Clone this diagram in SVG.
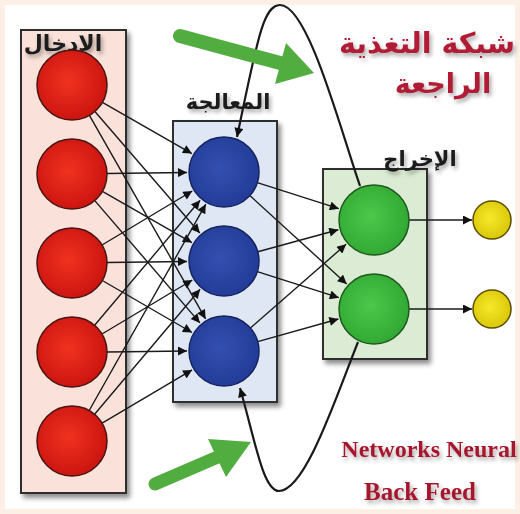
<svg xmlns="http://www.w3.org/2000/svg" width="520" height="514" viewBox="0 0 520 514">
<defs>
<style>
.box{stroke:#2e2e2e;stroke-width:2}
.conn line,.conn path{stroke:#1a1a1a;stroke-width:1.4;fill:none}
.ar{font-family:"DejaVu Sans",sans-serif;font-weight:bold;text-anchor:middle}
.en{font-family:"Liberation Serif",serif;font-weight:bold;fill:#a5182e;text-anchor:middle}
</style>
<marker id="ah" viewBox="0 0 10 10" refX="10" refY="5" markerWidth="10" markerHeight="9" markerUnits="userSpaceOnUse" orient="auto">
<path d="M0,0 L10,5 L0,10 z" fill="#111"/>
</marker>
<filter id="sh" x="-20%" y="-20%" width="140%" height="140%">
<feDropShadow dx="3" dy="4" stdDeviation="2.5" flood-color="#000" flood-opacity="0.45"/>
</filter>
<filter id="tsh" x="-20%" y="-30%" width="140%" height="160%">
<feDropShadow dx="2" dy="3" stdDeviation="2" flood-color="#000" flood-opacity="0.35"/>
</filter>
<radialGradient id="gr" cx="45%" cy="45%" r="60%"><stop offset="0" stop-color="#f0321f"/><stop offset="1" stop-color="#c9120f"/></radialGradient>
<radialGradient id="gb" cx="45%" cy="45%" r="60%"><stop offset="0" stop-color="#3450b0"/><stop offset="1" stop-color="#213a96"/></radialGradient>
<radialGradient id="gg" cx="45%" cy="45%" r="60%"><stop offset="0" stop-color="#4cc84a"/><stop offset="1" stop-color="#2fa632"/></radialGradient>
<radialGradient id="gy" cx="45%" cy="45%" r="60%"><stop offset="0" stop-color="#f5ea28"/><stop offset="1" stop-color="#d8c408"/></radialGradient>
</defs>
<rect width="520" height="514" fill="#fcefe5"/>
<rect x="5" y="5" width="510" height="504" fill="#ffffff"/>

<g id="input-layer">
<rect class="box" x="21" y="30" width="105" height="463" fill="#fae1da" filter="url(#sh)"/>
<text class="ar" x="63" y="51" font-size="22" fill="#1a1a1a" filter="url(#tsh)">الادخال</text>
</g>
<g id="hidden-layer">
<rect class="box" x="173" y="121" width="104" height="281" fill="#dfe7f4" filter="url(#sh)"/>
<text class="ar" x="228" y="109" font-size="21" fill="#1a1a1a" filter="url(#tsh)">المعالجة</text>
</g>
<g id="output-layer">
<rect class="box" x="323" y="169" width="104" height="190" fill="#dcecd4" filter="url(#sh)"/>
<text class="ar" x="420" y="166" font-size="21" fill="#1a1a1a" filter="url(#tsh)">الإخراج</text>
</g>

<g id="connectors" class="conn">
<line x1="102.4" y1="102.4" x2="191.9" y2="153.6" marker-end="url(#ah)"/>
<line x1="94.9" y1="111.5" x2="199.8" y2="233.0" marker-end="url(#ah)"/>
<line x1="89.4" y1="115.4" x2="205.6" y2="318.9" marker-end="url(#ah)"/>
<line x1="107" y1="173.5" x2="187" y2="172.5" marker-end="url(#ah)"/>
<line x1="102.4" y1="191.4" x2="191.9" y2="242.6" marker-end="url(#ah)"/>
<line x1="94.8" y1="200.6" x2="199.9" y2="322.9" marker-end="url(#ah)"/>
<line x1="102.0" y1="245.0" x2="192.3" y2="191.0" marker-end="url(#ah)"/>
<line x1="107" y1="262.5" x2="187" y2="261.5" marker-end="url(#ah)"/>
<line x1="102.3" y1="280.5" x2="192.0" y2="332.5" marker-end="url(#ah)"/>
<line x1="94.6" y1="325.3" x2="200.1" y2="200.3" marker-end="url(#ah)"/>
<line x1="102.0" y1="334.0" x2="192.3" y2="280.0" marker-end="url(#ah)"/>
<line x1="107" y1="352" x2="187" y2="351" marker-end="url(#ah)"/>
<line x1="89.2" y1="410.5" x2="205.8" y2="204.2" marker-end="url(#ah)"/>
<line x1="94.6" y1="414.3" x2="200.1" y2="289.3" marker-end="url(#ah)"/>
<line x1="102.1" y1="423.2" x2="192.1" y2="369.9" marker-end="url(#ah)"/>
<line x1="257.3" y1="182.7" x2="338.8" y2="208.7" marker-end="url(#ah)"/>
<line x1="249.9" y1="195.6" x2="346.7" y2="284.0" marker-end="url(#ah)"/>
<line x1="257.8" y1="251.8" x2="338.3" y2="229.8" marker-end="url(#ah)"/>
<line x1="257.3" y1="271.7" x2="338.8" y2="297.7" marker-end="url(#ah)"/>
<line x1="250.4" y1="328.0" x2="346.1" y2="244.3" marker-end="url(#ah)"/>
<line x1="257.7" y1="341.6" x2="338.4" y2="319.0" marker-end="url(#ah)"/>
<line x1="409" y1="220" x2="472" y2="220" marker-end="url(#ah)"/>
<line x1="409" y1="309" x2="472" y2="309" marker-end="url(#ah)"/>
<path d="M360,186 C340,128 308,5 280,5 C263,5 257,42 237,137" style="stroke-width:2.2" marker-end="url(#ah)"/>
<path d="M358,342 C335,400 305,491 279,491 C263,491 255,440 240,388" style="stroke-width:2.2" marker-end="url(#ah)"/>
</g>

<g id="in1"><circle cx="72" cy="85" r="35" fill="url(#gr)" stroke="#4a1410" stroke-width="1.5"/></g>
<g id="in2"><circle cx="72" cy="174" r="35" fill="url(#gr)" stroke="#4a1410" stroke-width="1.5"/></g>
<g id="in3"><circle cx="72" cy="263" r="35" fill="url(#gr)" stroke="#4a1410" stroke-width="1.5"/></g>
<g id="in4"><circle cx="72" cy="352" r="35" fill="url(#gr)" stroke="#4a1410" stroke-width="1.5"/></g>
<g id="in5"><circle cx="72" cy="441" r="35" fill="url(#gr)" stroke="#4a1410" stroke-width="1.5"/></g>
<g id="h1"><circle cx="224" cy="172" r="35" fill="url(#gb)" stroke="#17245e" stroke-width="1.5"/></g>
<g id="h2"><circle cx="224" cy="261" r="35" fill="url(#gb)" stroke="#17245e" stroke-width="1.5"/></g>
<g id="h3"><circle cx="224" cy="351" r="35" fill="url(#gb)" stroke="#17245e" stroke-width="1.5"/></g>
<g id="o1"><circle cx="374" cy="220" r="35" fill="url(#gg)" stroke="#1e5a1e" stroke-width="1.5"/></g>
<g id="o2"><circle cx="374" cy="309" r="35" fill="url(#gg)" stroke="#1e5a1e" stroke-width="1.5"/></g>
<g id="y1"><circle cx="492" cy="220" r="19" fill="url(#gy)" stroke="#5e4e00" stroke-width="1.5"/></g>
<g id="y2"><circle cx="492" cy="309" r="19" fill="url(#gy)" stroke="#5e4e00" stroke-width="1.5"/></g>

<g id="green-arrow-top">
<line x1="180" y1="36" x2="284" y2="64" stroke="#52ad40" stroke-width="14" stroke-linecap="round"/>
<polygon points="286,43 314,73 275,84" fill="#52ad40"/>
</g>
<g id="green-arrow-bottom">
<line x1="155" y1="484" x2="220" y2="456" stroke="#52ad40" stroke-width="13" stroke-linecap="round"/>
<polygon points="208,439 251,442 226,477" fill="#52ad40"/>
</g>

<g id="titles">
<text class="ar" x="427" y="53" font-size="28.5" fill="#b01e36" filter="url(#tsh)">شبكة التغذية</text>
<text class="ar" x="443" y="93" font-size="27" fill="#b01e36" filter="url(#tsh)">الراجعة</text>
<text class="en" x="429" y="457" font-size="24" filter="url(#tsh)">Networks Neural</text>
<text class="en" x="420" y="500" font-size="25" filter="url(#tsh)">Back Feed</text>
</g>
</svg>
